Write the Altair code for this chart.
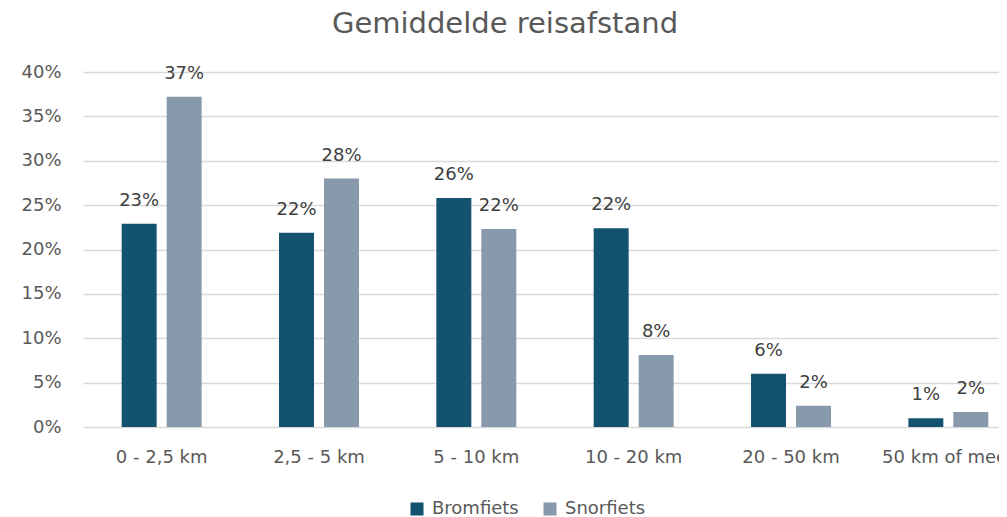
import altair as alt
import pandas as pd

categories = ["0 - 2,5 km", "2,5 - 5 km", "5 - 10 km", "10 - 20 km", "20 - 50 km", "50 km of meer"]
series = ["Bromfiets", "Snorfiets"]
bromfiets = [22.9, 21.9, 25.8, 22.4, 6.0, 1.0]
snorfiets = [37.2, 28.0, 22.3, 8.1, 2.4, 1.7]
colors = ["#14536F", "#8799AA"]

rows = []
for c, b, s in zip(categories, bromfiets, snorfiets):
    rows.append({"cat": c, "serie": "Bromfiets", "v": b / 100})
    rows.append({"cat": c, "serie": "Snorfiets", "v": s / 100})
df = pd.DataFrame(rows)

FONT = "DejaVu Sans"

x = alt.X("cat:N", sort=categories, title=None,
          scale=alt.Scale(paddingInner=0.4917, paddingOuter=0.2458, range=[0, 944]),
          axis=alt.Axis(labelAngle=0, labelFontSize=18, labelColor="#595959", labelFont=FONT,
                        labelPadding=21, ticks=False, domain=False, grid=False))
xoff = alt.XOffset("serie:N", sort=series, scale=alt.Scale(paddingInner=0.2222, paddingOuter=0))
y = alt.Y("v:Q", title=None,
          scale=alt.Scale(domain=[0, 0.40], nice=False),
          axis=alt.Axis(format=".0%", values=[i / 100 for i in range(0, 41, 5)],
                        labelFontSize=18, labelColor="#595959", labelFont=FONT, labelPadding=22,
                        ticks=False, domain=False, grid=True, gridColor="#D9D9D9", gridWidth=1.3))

base = alt.Chart(df)
bars = base.mark_bar().encode(
    x=x, xOffset=xoff, y=y,
    color=alt.Color("serie:N", sort=series,
                    scale=alt.Scale(domain=series, range=colors),
                    legend=alt.Legend(title=None, orient="none", direction="horizontal",
                                      legendX=325, legendY=428, symbolType="square",
                                      symbolSize=170, symbolStrokeWidth=0,
                                      labelFontSize=18, labelColor="#595959", labelFont=FONT,
                                      columnPadding=22, labelOffset=6)),
)
labels = base.mark_text(fontSize=18, color="#404040", font=FONT, baseline="alphabetic", dy=-18).encode(
    x=x, xOffset=xoff, y=y, text=alt.Text("v:Q", format=".0%"),
)

chart = alt.layer(bars, labels).properties(
    width=916, height=355,
    autosize=alt.AutoSizeParams(type="none"),
    padding={"left": 75, "top": 64, "right": 0, "bottom": 90},
    title=alt.Title("Gemiddelde reisafstand", fontSize=29, font=FONT, fontWeight="normal",
                    color="#595959", anchor="middle", dx=-36, offset=24),
).configure_view(stroke=None)

chart.save("out.html", embed_options={"renderer": "svg", "actions": False})
